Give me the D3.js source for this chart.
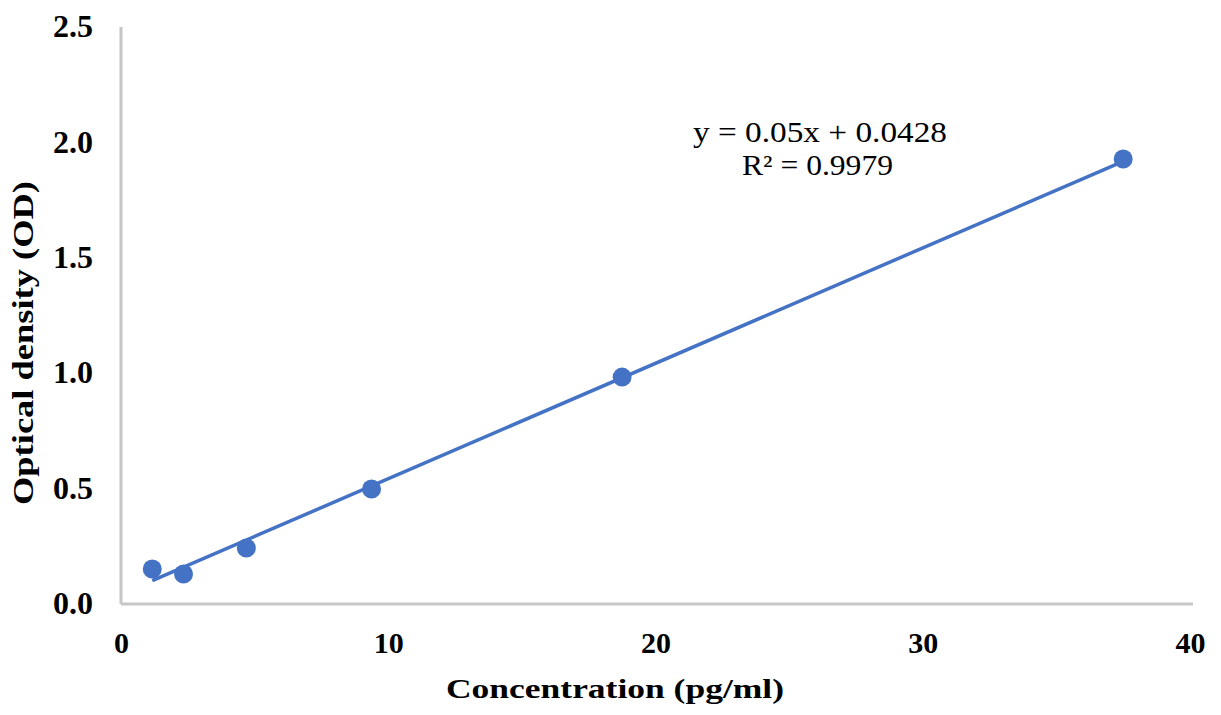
<!DOCTYPE html>
<html><head><meta charset="utf-8">
<script src="https://cdn.jsdelivr.net/npm/d3@7"></script>
<style>body{margin:0;background:#fff;} svg{display:block;}</style>
</head><body>
<svg id="chart" width="1221" height="715"></svg>
<script>
const concentrations = [1.17, 2.34, 4.69, 9.375, 18.75, 37.5];
const odValues = [0.152, 0.130, 0.243, 0.498, 0.983, 1.928];
const xTicks = [0, 10, 20, 30, 40];
const yTicks = [0, 0.5, 1.0, 1.5, 2.0, 2.5];
const slope = 0.05, intercept = 0.0428;
const eqLines = ["y = 0.05x + 0.0428", "R² = 0.9979"];
const xTitle = "Concentration (pg/ml)";
const yTitle = "Optical density (OD)";

const svg = d3.select("#chart");
const m = {left:121, right:1190, top:27, bottom:604};
const x = d3.scaleLinear().domain([0,40]).range([m.left, m.right]);
const y = d3.scaleLinear().domain([0,2.5]).range([m.bottom, m.top]);
const blue = "#4472C4";
const serif = "'Liberation Serif','Times New Roman',serif";

// axes lines
svg.append("line").attr("x1",x(0)).attr("x2",x(0)).attr("y1",y(2.5)).attr("y2",y(0))
  .attr("stroke","#c6c6c6").attr("stroke-width",3);
svg.append("line").attr("x1",x(0)).attr("x2",x(40)+3).attr("y1",y(0)).attr("y2",y(0))
  .attr("stroke","#c6c6c6").attr("stroke-width",3);

// tick labels via axes
const xAxis = d3.axisBottom(x).tickValues(xTicks).tickSize(0).tickPadding(0).tickFormat(d3.format("d"));
const gx = svg.append("g").attr("transform",`translate(0,${y(0)+49})`).call(xAxis);
gx.select(".domain").remove();
gx.selectAll("text").attr("font-family",serif).attr("font-weight","bold").attr("font-size",30).attr("fill","#000").attr("dy","0");

const yAxis = d3.axisLeft(y).tickValues(yTicks).tickSize(0).tickPadding(0).tickFormat(d3.format(".1f"));
const gy = svg.append("g").attr("transform",`translate(${x(0)-28},0)`).call(yAxis);
gy.select(".domain").remove();
gy.selectAll("text").attr("font-family",serif).attr("font-weight","bold").attr("font-size",32).attr("fill","#000").attr("dy","0.3em");

// trendline
const x0 = d3.min(concentrations), x1 = d3.max(concentrations);
svg.append("line")
  .attr("x1",x(x0)).attr("y1",y(slope*x0+intercept))
  .attr("x2",x(x1)).attr("y2",y(slope*x1+intercept))
  .attr("stroke",blue).attr("stroke-width",3.5);

// points
svg.selectAll("circle.pt").data(concentrations.map((c,i)=>({c,v:odValues[i]}))).join("circle")
  .attr("class","pt").attr("cx",d=>x(d.c)).attr("cy",d=>y(d.v)).attr("r",9.5).attr("fill",blue);

// equation
svg.append("text").attr("x",693).attr("y",142)
  .attr("font-family",serif).attr("font-size",29).attr("fill","#000")
  .attr("textLength",254).attr("lengthAdjust","spacingAndGlyphs").text(eqLines[0]);
svg.append("text").attr("x",742).attr("y",175)
  .attr("font-family",serif).attr("font-size",29).attr("fill","#000")
  .attr("textLength",151).attr("lengthAdjust","spacingAndGlyphs").text(eqLines[1]);

// axis titles
svg.append("text").attr("x",446).attr("y",698)
  .attr("font-family",serif).attr("font-weight","bold").attr("font-size",28).attr("fill","#000")
  .attr("textLength",338).attr("lengthAdjust","spacingAndGlyphs").text(xTitle);
svg.append("text").attr("transform","translate(33,505) rotate(-90)")
  .attr("font-family",serif).attr("font-weight","bold").attr("font-size",30).attr("fill","#000")
  .attr("textLength",324).attr("lengthAdjust","spacingAndGlyphs").text(yTitle);
</script>
</body></html>
